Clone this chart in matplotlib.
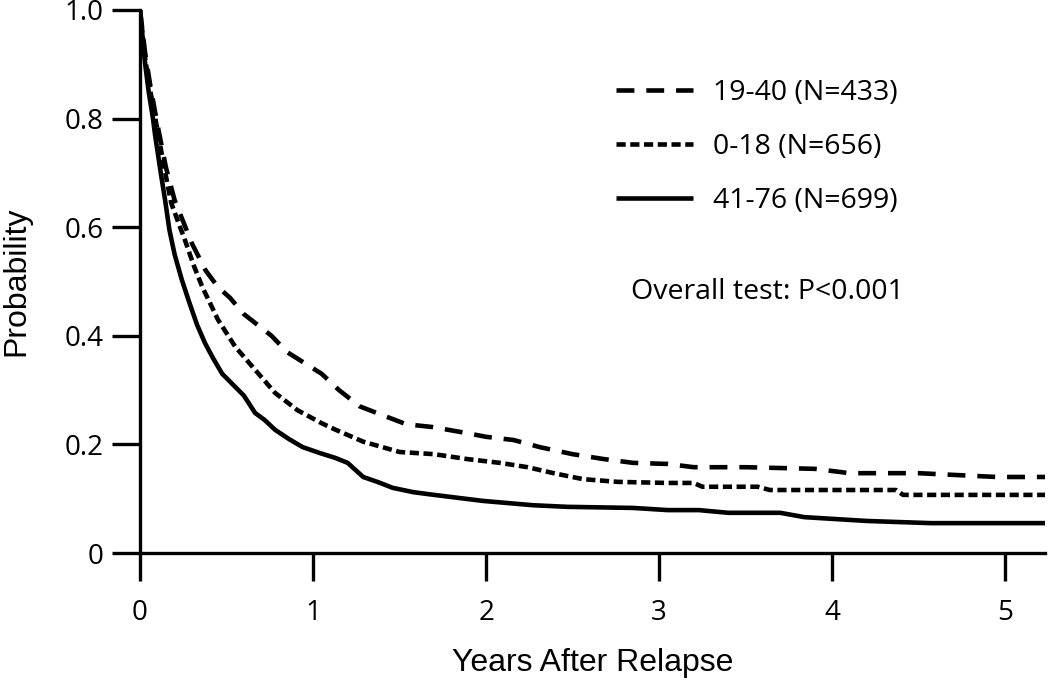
import matplotlib
matplotlib.use("Agg")
import matplotlib.pyplot as plt

# ---- data ----
t_1940 = [0, 0.03, 0.06, 0.10, 0.15, 0.20, 0.25, 0.30, 0.38, 0.45, 0.52, 0.60, 0.68, 0.76,
          0.85, 0.95, 1.05, 1.15, 1.27, 1.40, 1.54, 1.69, 1.85, 2.0, 2.16, 2.31, 2.50, 2.68,
          2.85, 3.05, 3.20, 3.50, 3.90, 4.10, 4.50, 4.95, 5.23]
s_1940 = [1.0, 0.92, 0.86, 0.79, 0.71, 0.65, 0.61, 0.57, 0.52, 0.49, 0.47, 0.44, 0.42, 0.40,
          0.37, 0.35, 0.33, 0.30, 0.27, 0.254, 0.237, 0.232, 0.223, 0.214, 0.208, 0.195, 0.182,
          0.173, 0.166, 0.164, 0.158, 0.158, 0.155, 0.147, 0.147, 0.14, 0.14]

t_018 = [0, 0.03, 0.06, 0.10, 0.14, 0.18, 0.22, 0.26, 0.31, 0.36, 0.45, 0.55, 0.65, 0.78,
         0.91, 1.05, 1.13, 1.29, 1.50, 1.70, 1.89, 2.08, 2.24, 2.39, 2.56, 2.76, 3.05, 3.20,
         3.25, 3.57, 3.64, 4.37, 4.41, 5.23]
s_018 = [1.0, 0.91, 0.85, 0.78, 0.71, 0.645, 0.61, 0.576, 0.53, 0.49, 0.43, 0.38, 0.343, 0.295,
         0.263, 0.239, 0.227, 0.205, 0.186, 0.182, 0.173, 0.166, 0.158, 0.147, 0.136, 0.131,
         0.129, 0.129, 0.122, 0.122, 0.116, 0.116, 0.107, 0.107]

t_4176 = [0, 0.03, 0.05, 0.075, 0.087, 0.12, 0.145, 0.17, 0.20, 0.24, 0.28, 0.33, 0.375, 0.42,
          0.475, 0.55, 0.60, 0.665, 0.72, 0.78, 0.86, 0.94, 1.04, 1.13, 1.20, 1.29, 1.38, 1.46,
          1.58, 1.70, 1.98, 2.27, 2.47, 2.85, 3.05, 3.23, 3.4, 3.7, 3.84, 4.2, 4.57, 5.23]
s_4176 = [1.0, 0.90, 0.85, 0.80, 0.77, 0.70, 0.65, 0.595, 0.55, 0.505, 0.466, 0.42, 0.387, 0.36,
          0.33, 0.306, 0.29, 0.258, 0.245, 0.227, 0.21, 0.195, 0.184, 0.175, 0.166, 0.14, 0.13,
          0.12, 0.112, 0.107, 0.096, 0.088, 0.085, 0.083, 0.079, 0.079, 0.074, 0.074, 0.066,
          0.059, 0.055, 0.055]

labels = ["19-40 (N=433)", "0-18 (N=656)", "41-76 (N=699)"]
x_ticks = [0, 1, 2, 3, 4, 5]
x_ticklabels = ["0", "1", "2", "3", "4", "5"]
y_ticks = [0, 0.2, 0.4, 0.6, 0.8, 1.0]
y_ticklabels = ["0", "0.2", "0.4", "0.6", "0.8", "1.0"]
annotation = "Overall test: P<0.001"

# ---- figure ----
fig = plt.figure(figsize=(10.5, 6.83), dpi=100)
ax = fig.add_axes([140 / 1050, 1 - 553 / 683, 905 / 1050, 543 / 683])

lw = 3.3
l1, = ax.plot(t_1940, s_1940, color="black", lw=lw, dashes=(3.9, 2.6), label=labels[0])
l2, = ax.plot(t_018, s_018, color="black", lw=lw, dashes=(2.0, 1.0), label=labels[1])
l3, = ax.plot(t_4176, s_4176, color="black", lw=lw, solid_capstyle="butt", label=labels[2])

ax.set_xlim(0, 5.23)
ax.set_ylim(0, 1.0)

for s in ["top", "right"]:
    ax.spines[s].set_visible(False)
for s in ["left", "bottom"]:
    ax.spines[s].set_linewidth(2.4)

tick_font = "Open Sans"
ax.set_xticks(x_ticks)
ax.set_xticklabels(x_ticklabels, fontsize=20, family=tick_font)
ax.set_yticks(y_ticks)
ax.set_yticklabels(y_ticklabels, fontsize=20, family=tick_font)
ax.tick_params(direction="out", length=20, width=2.4)
ax.tick_params(axis="x", pad=13)
ax.tick_params(axis="y", pad=6)

ax.set_xlabel("Years After Relapse", fontsize=23, family="Liberation Sans", labelpad=15)
ax.set_ylabel("Probability", fontsize=23, family="Liberation Sans", labelpad=24)

leg = ax.legend(handles=[l1, l2, l3], loc="upper left", bbox_to_anchor=(0.498, 0.92),
                frameon=False, handlelength=2.7, labelspacing=0.92, handletextpad=0.68,
                prop={"family": tick_font, "size": 20.5})

ax.text(0.543, 0.48, annotation, transform=ax.transAxes, fontsize=20.5, family=tick_font,
        ha="left", va="center")

fig.savefig("out.png", dpi=100)
